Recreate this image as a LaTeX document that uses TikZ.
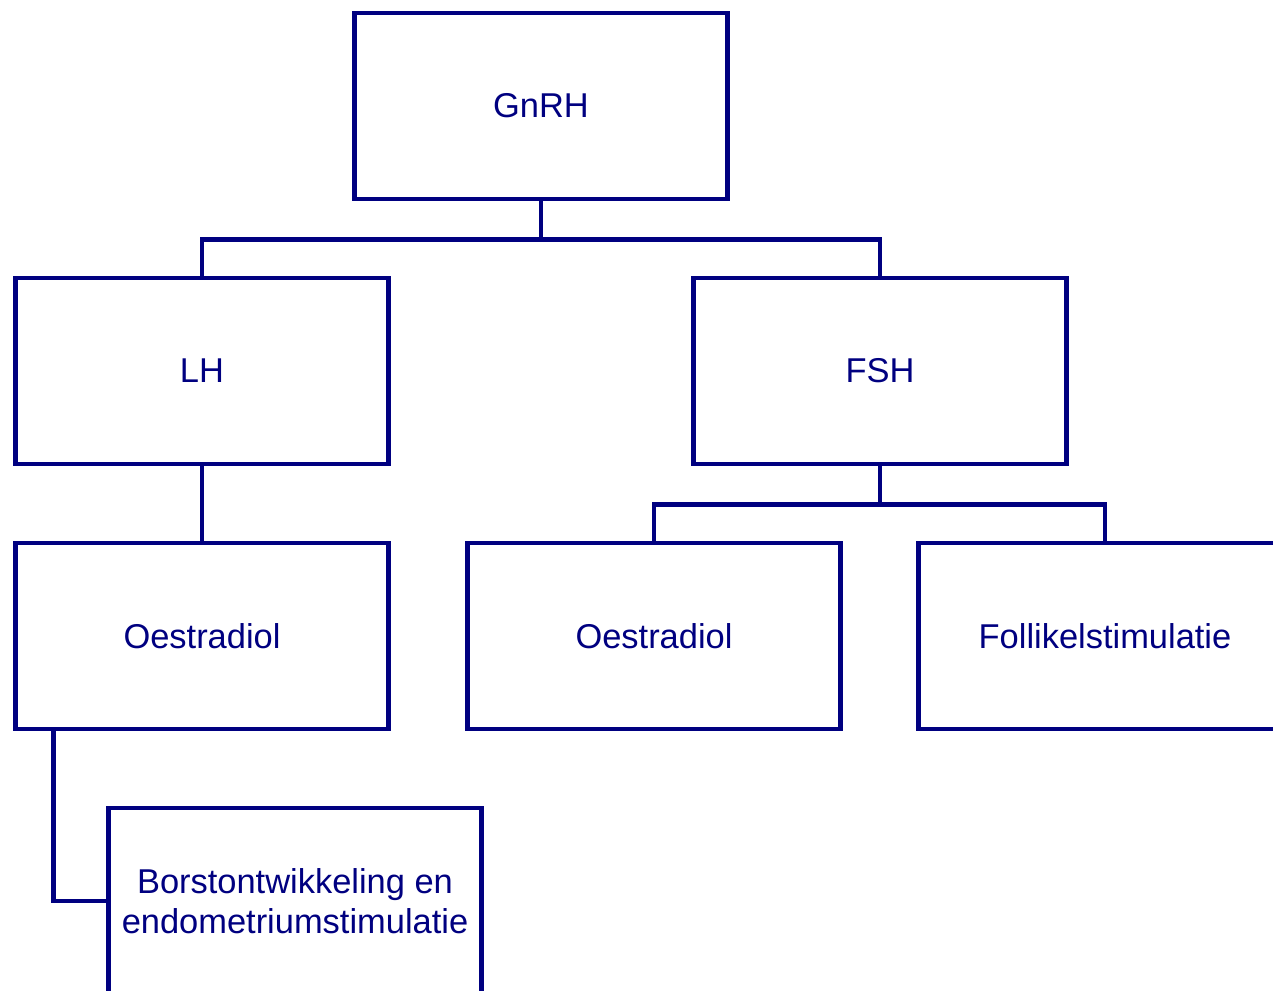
\documentclass[tikz,border=0pt]{standalone}
\usepackage{fontspec}
\setmainfont{Liberation Sans}
\usepackage{tikz}
\usetikzlibrary{positioning}
\definecolor{hormoneblue}{HTML}{000080}
\tikzstyle{hormone} = [rectangle, minimum width=7.46cm, minimum height=3.72cm, text centered, align=center, draw=hormoneblue, text=hormoneblue, line width=0.09cm, font=\fontsize{19.6}{23}\selectfont]
\tikzstyle{link} = [draw=hormoneblue, line width=0.09cm]

\begin{document}
\begin{tikzpicture}
\useasboundingbox (0,0) rectangle (25.46,-19.8);
\clip (0,0) rectangle (25.46,-19.8);

\node (gnrh) [hormone] at (10.82,-2.12) {GnRH};
\node (lh) [hormone] at (4.04,-7.42) {LH};
\node (fsh) [hormone] at (17.6,-7.42) {FSH};
\node (oestrlh) [hormone] at (4.04,-12.72) {Oestradiol};
\node (oestrfsh) [hormone] at (13.08,-12.72) {Oestradiol};
\node (follikel) [hormone] at (22.1,-12.72) {Follikelstimulatie};
\node (borst) [hormone] at (5.9,-18.02) {Borstontwikkeling en\\endometriumstimulatie};

% forks
\coordinate (gnrhfork) at ([yshift=-0.76cm]gnrh.south);
\coordinate (fshfork) at ([yshift=-0.76cm]fsh.south);
\coordinate (oestrdrop) at ([xshift=0.8cm]oestrlh.south west);

\draw [link] (gnrh.south) -- (gnrhfork);
\draw [link] (gnrhfork) -| (lh.north);
\draw [link] (gnrhfork) -| (fsh.north);
\draw [link] (lh) -- (oestrlh);
\draw [link] (fsh.south) -- (fshfork);
\draw [link] (fshfork) -| (oestrfsh.north);
\draw [link] (fshfork) -| (follikel.north);
\draw [link] (oestrdrop) |- (borst.west);

\end{tikzpicture}
\end{document}
